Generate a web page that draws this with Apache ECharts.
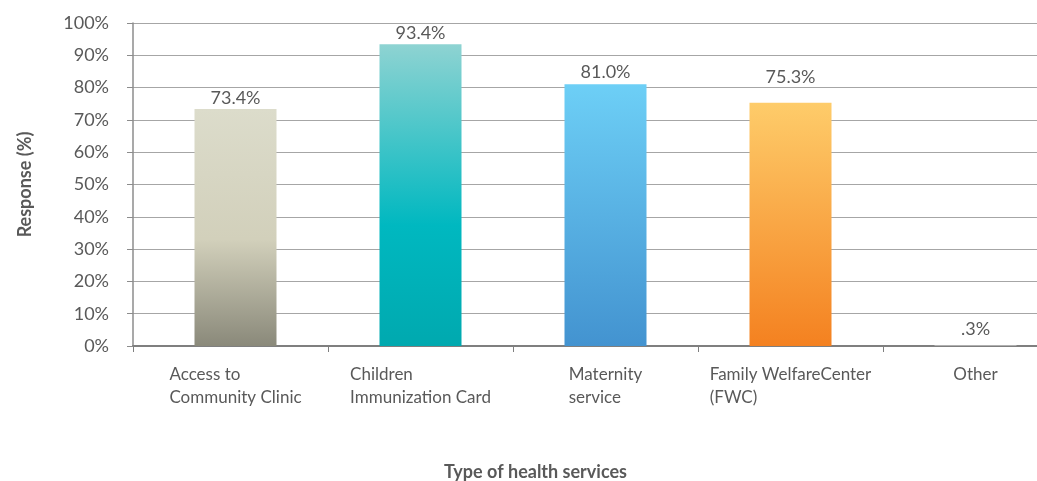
<!DOCTYPE html>
<html>
<head>
<meta charset="utf-8">
<script src="https://cdn.jsdelivr.net/npm/echarts@6/dist/echarts.min.js"></script>
<style>html,body{margin:0;padding:0;background:#fff}#c{width:1037px;height:481px}</style>
</head>
<body>
<div id="c"></div>
<script>
const categories = [
  ['Access to', 'Community Clinic'],
  ['Children', 'Immunization Card'],
  ['Maternity', 'service'],
  ['Family WelfareCenter', '(FWC)'],
  ['Other']
];
const values = [73.4, 93.4, 81.0, 75.3, 0.3];
const valueLabels = ['73.4%', '93.4%', '81.0%', '75.3%', '.3%'];
const yTicks = [0, 10, 20, 30, 40, 50, 60, 70, 80, 90, 100];
const xTitle = 'Type of health services';
const yTitle = 'Response (%)';

const gradients = [
  [[0, '#DCDCCB'], [0.55, '#D2D0BB'], [1, '#8A897A']],
  [[0, '#8ED3D2'], [0.6, '#00B8C0'], [1, '#00A9AF']],
  [[0, '#6DCFF6'], [1, '#4393D0']],
  [[0, '#FECC6A'], [1, '#F48120']],
  [[0, '#BFBFBF'], [1, '#A0A0A0']]
];
const labelDistances = [2, 2, 3, 17, 7];

const font = 'Lato, "Open Sans", sans-serif';
const txt = '#595959';

const chart = echarts.init(document.getElementById('c'), null, {renderer: 'canvas'});
chart.setOption({
  animation: false,
  backgroundColor: '#ffffff',
  textStyle: {fontFamily: font},
  grid: [
    {left: 133, right: -31, top: 23, bottom: 135, outerBoundsMode: 'none', containLabel: false},
    {left: 143, right: -31, top: 23, bottom: 135, outerBoundsMode: 'none', containLabel: false}
  ],
  xAxis: [
    {
      gridIndex: 0, type: 'value', min: 0, max: 1, interval: 1,
      axisLine: {show: true, lineStyle: {color: '#7F7F7F', width: 2}},
      axisTick: {show: true, length: 6, lineStyle: {color: '#7F7F7F'}},
      axisLabel: {show: false}, splitLine: {show: false}
    },
    {
      gridIndex: 1, type: 'category',
      data: categories.map(c => c.join('\n')),
      axisLine: {show: false},
      axisTick: {show: true, length: 6, interval: (i) => i !== 0, lineStyle: {color: '#7F7F7F'}},
      axisLabel: {
        interval: 0, margin: 17, color: txt, fontSize: 17, fontFamily: font,
        align: 'center',
        formatter: (v) => v.split('\n').map(s => '{a|' + s + '}').join('\n'),
        rich: {a: {align: 'left', fontSize: 17, lineHeight: 23, color: txt, fontFamily: font}}
      },
      name: xTitle, nameLocation: 'middle', nameGap: 117,
      nameTextStyle: {color: txt, fontSize: 18, fontWeight: 'bold', fontFamily: font, padding: [0, 140, 0, 0]}
    }
  ],
  yAxis: [
    {
      gridIndex: 0, type: 'value', min: yTicks[0], max: yTicks[yTicks.length - 1], interval: 10,
      axisLine: {show: true, lineStyle: {color: '#8C8C8C', width: 1.5}},
      axisTick: {show: true, length: 6, lineStyle: {color: '#8C8C8C'}},
      axisLabel: {formatter: '{value}%', color: txt, fontSize: 18, margin: 24, fontFamily: font},
      splitLine: {show: true, lineStyle: {color: '#A6A6A6', width: 1.2}},
      name: yTitle, nameLocation: 'middle', nameGap: 99,
      nameTextStyle: {color: txt, fontSize: 18, fontWeight: 'bold', fontFamily: font}
    },
    {
      gridIndex: 1, type: 'value', min: yTicks[0], max: yTicks[yTicks.length - 1], show: false
    }
  ],
  series: [{
    type: 'bar',
    xAxisIndex: 1, yAxisIndex: 1,
    barWidth: 82,
    data: values.map((v, i) => ({
      value: v,
      label: {distance: labelDistances[i]},
      itemStyle: {
        color: new echarts.graphic.LinearGradient(0, 0, 0, 1,
          gradients[i].map(s => ({offset: s[0], color: s[1]})))
      }
    })),
    label: {
      show: true, position: 'top', color: txt, fontSize: 18, fontFamily: font,
      formatter: (p) => valueLabels[p.dataIndex]
    }
  }]
});
</script>
</body>
</html>
